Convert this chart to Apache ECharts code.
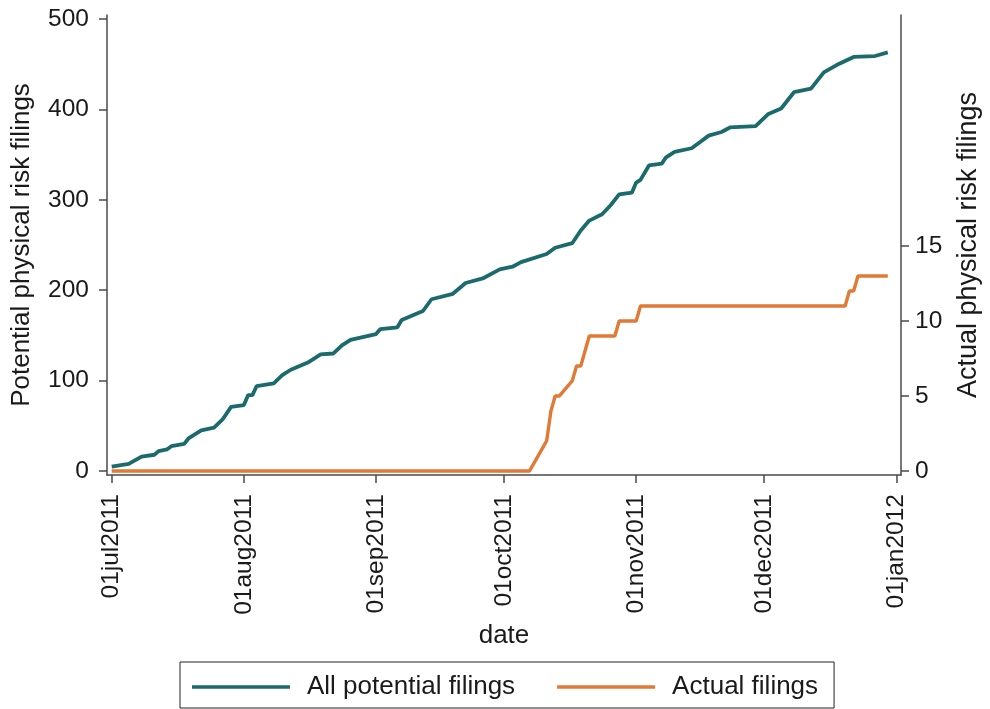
<!DOCTYPE html>
<html>
<head>
<meta charset="utf-8">
<script src="https://cdn.jsdelivr.net/npm/echarts@6/dist/echarts.min.js"></script>
<style>
  html, body { margin: 0; padding: 0; background: #fff; }
  #chart { width: 990px; height: 709px; }
</style>
</head>
<body>
<div id="chart"></div>
<script>
// Cumulative count of potential physical-risk filings (left axis)
const potentialDates = [
  '2011-07-01','2011-07-05','2011-07-08','2011-07-11','2011-07-12','2011-07-14','2011-07-15',
  '2011-07-18','2011-07-19','2011-07-22','2011-07-25','2011-07-27','2011-07-29',
  '2011-08-01','2011-08-02','2011-08-03','2011-08-04','2011-08-08','2011-08-10','2011-08-12',
  '2011-08-16','2011-08-19','2011-08-22','2011-08-24','2011-08-26',
  '2011-09-01','2011-09-02','2011-09-06','2011-09-07','2011-09-12','2011-09-14','2011-09-19',
  '2011-09-22','2011-09-26','2011-09-30',
  '2011-10-03','2011-10-05','2011-10-11','2011-10-13','2011-10-17','2011-10-19','2011-10-21',
  '2011-10-24','2011-10-26','2011-10-28','2011-10-31',
  '2011-11-01','2011-11-02','2011-11-04','2011-11-07','2011-11-08','2011-11-10','2011-11-14',
  '2011-11-16','2011-11-18','2011-11-21','2011-11-23','2011-11-29',
  '2011-12-02','2011-12-05','2011-12-08','2011-12-12','2011-12-15','2011-12-18','2011-12-22',
  '2011-12-27','2011-12-30'
];
const potentialValues = [
  5, 8, 16, 18, 22, 24, 27.5,
  30, 36, 45, 48, 57, 71,
  73, 84, 84, 94, 97, 106, 112,
  120, 129, 130, 139, 145,
  151.5, 157, 159, 167, 177, 190, 196,
  208, 213, 223,
  226, 231, 240, 247, 252, 266, 277,
  284, 294, 306, 308,
  319, 322, 338, 340, 347, 353, 357,
  364, 371, 375, 380, 381.5,
  395, 401, 419, 423, 441, 449, 458,
  459, 463
];

// Cumulative count of actual physical-risk filings (right axis)
const actualDates = [
  '2011-07-01','2011-10-07','2011-10-11','2011-10-12','2011-10-13','2011-10-14','2011-10-17',
  '2011-10-18','2011-10-19','2011-10-21','2011-10-27','2011-10-28','2011-11-01','2011-11-02',
  '2011-12-20','2011-12-21','2011-12-22','2011-12-23','2011-12-30'
];
const actualValues = [
  0, 0, 2, 4, 5, 5, 6,
  7, 7, 9, 9, 10, 10, 11,
  11, 12, 12, 13, 13
];

const leftTicks = [0, 100, 200, 300, 400, 500];
const rightTicks = [0, 5, 10, 15];
const dateTicks = ['2011-07-01','2011-08-01','2011-09-01','2011-10-01','2011-11-01','2011-12-01','2012-01-01'];
const monthNames = ['jan','feb','mar','apr','may','jun','jul','aug','sep','oct','nov','dec'];

const DAY = 86400000;
function ts(s) {
  const p = s.split('-').map(Number);
  return Date.UTC(p[0], p[1] - 1, p[2]);
}
function fmtDate(v) {
  const d = new Date(v);
  const dd = String(d.getUTCDate()).padStart(2, '0');
  return dd + monthNames[d.getUTCMonth()] + d.getUTCFullYear();
}

const FONT = '"Liberation Sans", Arial, Helvetica, sans-serif';
const TEXT = '#1a1a1a';
const AXIS = '#4a4a4a';
const TEAL = '#1b6a6c';
const ORANGE = '#e07a35';

const chart = echarts.init(document.getElementById('chart'), null, { renderer: 'canvas' });

chart.setOption({
  animation: false,
  backgroundColor: '#ffffff',
  textStyle: { fontFamily: FONT },
  grid: { left: 107, right: 86, top: 15, bottom: 234, containLabel: false },
  legend: {
    left: 180,
    top: 662,
    padding: [12, 16, 8, 12],
    borderColor: '#222',
    borderWidth: 1,
    icon: 'rect',
    itemWidth: 98,
    itemHeight: 3.5,
    itemGap: 42,
    textStyle: { fontFamily: FONT, fontSize: 26, color: TEXT, padding: [0, 0, 0, 12] },
    data: ['All potential filings', 'Actual filings']
  },
  xAxis: {
    type: 'value',
    min: ts('2011-07-01') - 1.1 * DAY,
    max: ts('2012-01-01') + 1.1 * DAY,
    name: 'date',
    nameLocation: 'middle',
    nameGap: 146,
    nameTextStyle: { fontFamily: FONT, fontSize: 26, color: TEXT },
    axisLine: { show: true, onZero: false, lineStyle: { color: AXIS, width: 1.5 } },
    axisTick: { show: true, length: 8, lineStyle: { color: AXIS, width: 1.5 }, customValues: dateTicks.map(ts) },
    axisLabel: {
      rotate: 90,
      margin: 19,
      fontFamily: FONT,
      fontSize: 24.5,
      color: TEXT,
      customValues: dateTicks.map(ts),
      formatter: fmtDate
    },
    splitLine: { show: false }
  },
  yAxis: [
    {
      type: 'value',
      position: 'left',
      min: -4.4,
      max: 504.4,
      name: 'Potential physical risk filings',
      nameLocation: 'middle',
      nameRotate: 90,
      nameGap: 72,
      nameTextStyle: { fontFamily: FONT, fontSize: 26, color: TEXT },
      axisLine: { show: true, lineStyle: { color: AXIS, width: 1.5 } },
      axisTick: { show: true, length: 8, lineStyle: { color: AXIS, width: 1.5 }, customValues: leftTicks },
      axisLabel: { margin: 18, fontFamily: FONT, fontSize: 24.5, color: TEXT, customValues: leftTicks },
      splitLine: { show: false }
    },
    {
      type: 'value',
      position: 'right',
      min: -0.27,
      max: 30.4,
      name: 'Actual physical risk filings',
      nameLocation: 'middle',
      nameRotate: 90,
      nameGap: 54,
      nameTextStyle: { fontFamily: FONT, fontSize: 27, color: TEXT },
      axisLine: { show: true, lineStyle: { color: AXIS, width: 1.5 } },
      axisTick: { show: true, length: 8, lineStyle: { color: AXIS, width: 1.5 }, customValues: rightTicks },
      axisLabel: { margin: 14, fontFamily: FONT, fontSize: 24.5, color: TEXT, customValues: rightTicks },
      splitLine: { show: false }
    }
  ],
  series: [
    {
      name: 'All potential filings',
      type: 'line',
      yAxisIndex: 0,
      showSymbol: false,
      symbol: 'none',
      color: TEAL,
      itemStyle: { color: TEAL },
      lineStyle: { color: TEAL, width: 3.8 },
      data: potentialDates.map((d, i) => [ts(d), potentialValues[i]])
    },
    {
      name: 'Actual filings',
      type: 'line',
      yAxisIndex: 1,
      showSymbol: false,
      symbol: 'none',
      color: ORANGE,
      itemStyle: { color: ORANGE },
      lineStyle: { color: ORANGE, width: 3.4 },
      data: actualDates.map((d, i) => [ts(d), actualValues[i]])
    }
  ]
});
</script>
</body>
</html>
